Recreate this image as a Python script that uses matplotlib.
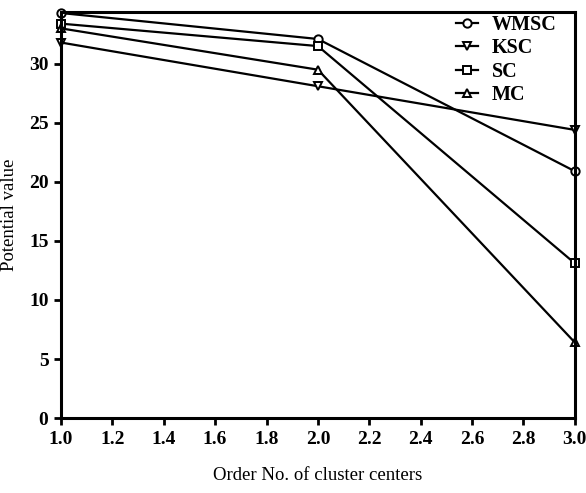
import matplotlib.pyplot as plt

plt.rcParams['font.family'] = ['Liberation Serif', 'DejaVu Serif']

order = [1.0, 2.0, 3.0]
wmsc = [34.3, 32.1, 20.9]
ksc = [31.8, 28.1, 24.4]
sc = [33.4, 31.5, 13.1]
mc = [33.0, 29.5, 6.4]

fig = plt.figure(figsize=(5.86, 4.93), dpi=100)
ax = fig.add_axes([0.104, 0.152, 0.877, 0.824])

style = dict(color='black', lw=1.6, ms=6, mfc='white', mew=1.4, clip_on=False)
ax.plot(order, wmsc, marker='o', label='WMSC', **style)
ax.plot(order, ksc, marker='v', label='KSC', **style)
ax.plot(order, sc, marker='s', label='SC', **style)
ax.plot(order, mc, marker='^', label='MC', **style)

ax.set_xlim(1.0, 3.0)
ax.set_ylim(0, 34.4)
ax.set_xticks([1.0, 1.2, 1.4, 1.6, 1.8, 2.0, 2.2, 2.4, 2.6, 2.8, 3.0])
ax.set_yticks([0, 5, 10, 15, 20, 25, 30])
for s in ax.spines.values():
    s.set_linewidth(2.2)
ax.tick_params(direction='out', length=5, width=2, labelsize=14, pad=4)
for lab in ax.get_xticklabels() + ax.get_yticklabels():
    lab.set_fontweight('bold')

ax.set_xlabel('Order No. of cluster centers', fontsize=13.5, labelpad=14)
ax.set_ylabel('Potential value', fontsize=13.5, labelpad=8)

leg = ax.legend(loc='upper right', bbox_to_anchor=(1.0, 1.037), frameon=False, fontsize=14.5,
                handlelength=1.1, handletextpad=0.7, labelspacing=0.17)
for t in leg.get_texts():
    t.set_fontweight('bold')

plt.savefig('out.png', dpi=100)
